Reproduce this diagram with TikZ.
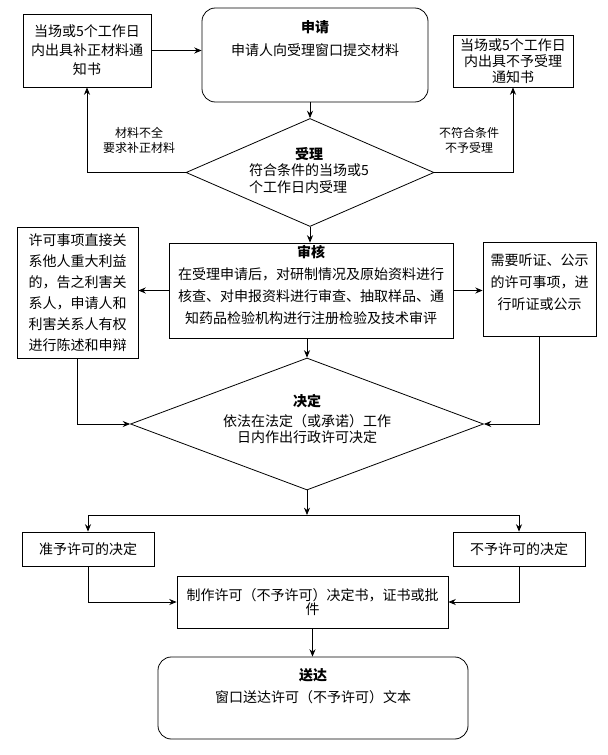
\documentclass[tikz,border=0pt]{standalone}
\usepackage{fontspec}
\setmainfont{Noto Sans CJK SC}
\usepackage{tikz}
\usetikzlibrary{shapes,decorations}
\usetikzlibrary{arrows.meta, positioning}

\tikzset{
  box/.style={draw, line width=0.6pt, inner sep=2pt, align=center, font=\fontsize{10.5}{16.5}\selectfont},
  roundbox/.style={draw, line width=0.6pt, rounded corners=10pt},
  decision/.style={draw, diamond, line width=0.6pt, inner sep=0pt},
  txt/.style={inner sep=1pt, align=center, font=\fontsize{10.5}{16.5}\selectfont},
  note/.style={inner sep=1pt, align=center, font=\fontsize{9}{11.25}\selectfont},
  arr/.style={->, >={Stealth[length=5.5pt,width=4.5pt]}, line width=0.6pt}
}

\begin{document}
\begin{tikzpicture}[x=0.75pt,y=-0.75pt]
\useasboundingbox (0,0) rectangle (607,755);

% 申请
\node[box, minimum width=96pt, minimum height=54.75pt, font=\fontsize{10.5}{14.25}\selectfont] (buzheng) at (87,50.5) {当场或5个工作日\\内出具补正材料通\\知书};
\node[roundbox, minimum width=169.5pt, minimum height=70.5pt] (shenqing) at (315,55) {};
\node[txt, font=\fontsize{10.5}{17.25}\selectfont] (shenqingtxt) at (315,38.5) {\textbf{申请}\\申请人向受理窗口提交材料};
\node[box, minimum width=90pt, minimum height=39pt, font=\fontsize{10.5}{12}\selectfont] (buyu) at (513,61) {当场或5个工作日\\内出具不予受理\\通知书};

% 受理
\node[decision, minimum width=186pt, minimum height=81pt] (shouli) at (310,172.5) {};
\node[txt, align=left, font=\fontsize{10.5}{12.75}\selectfont] (shoulitxt) at (309,178.5) {符合条件的当场或5\\个工作日内受理};
\node[txt, above=0pt of shoulitxt] (shoulihead) {\textbf{受理}};
\node[note] (quehuo) at (139,140) {材料不全\\要求补正材料};
\node[note] (bufu) at (469,140) {不符合条件\\不予受理};

% 审核
\node[box, minimum width=213pt, minimum height=71.25pt] (shenhe) at (311,290.5) {};
\node[txt] (shenhetxt) at (311,285) {\textbf{审核}\\在受理申请后，对研制情况及原始资料进行\\核查、对申报资料进行审查、抽取样品、通\\知药品检验机构进行注册检验及技术审评};
\node[box, minimum width=90.75pt, minimum height=98.25pt, font=\fontsize{10.5}{15.75}\selectfont] (lishi) at (77.5,293) {许可事项直接关\\系他人重大利益\\的，告之利害关\\系人，申请人和\\利害关系人有权\\进行陈述和申辩};
\node[box, minimum width=84.75pt, minimum height=70.5pt] (tingzheng) at (539.5,289) {};
\node[txt] (tingzhengtxt) at (539.5,282.5) {需要听证、公示\\的许可事项，进\\行听证或公示};

% 决定
\node[decision, minimum width=264.75pt, minimum height=99pt] (jueding) at (307,424) {};
\node[txt, font=\fontsize{10.5}{12}\selectfont] (juedingtxt) at (307,419) {\textbf{决定}\\[3pt]依法在法定（或承诺）工作\\日内作出行政许可决定};
\coordinate (fork) at (307,515);
\node[box, minimum width=99pt, minimum height=25.5pt] (zhunyu) at (88,549) {准予许可的决定};
\node[box, minimum width=99pt, minimum height=25.5pt] (buyuxuke) at (519,549) {不予许可的决定};

% 送达
\node[box, minimum width=203.25pt, minimum height=39pt, font=\fontsize{10.5}{11}\selectfont] (zhizuo) at (312.5,602) {制作许可（不予许可）决定书，证书或批\\件};
\node[roundbox, minimum width=232.5pt, minimum height=61.5pt] (songda) at (313,698) {};
\node[txt] (songdatxt) at (313,686) {\textbf{送达}\\窗口送达许可（不予许可）文本};

\draw[arr] (buzheng.east) -- (buzheng.east -| shenqing.west);
\draw[arr] (shouli.north |- shenqing.south) -- (shouli.north);
\draw[arr] (shouli.west) -| (buzheng.south);
\draw[arr] (shouli.east) -| (buyu.south);
\draw[arr] (shouli.south) -- (shouli.south |- shenhe.north);
\draw[arr] (shenhe.west) -- (shenhe.west -| lishi.east);
\draw[arr] (shenhe.east) -- (shenhe.east -| tingzheng.west);
\draw[arr] (jueding.north |- shenhe.south) -- (jueding.north);
\draw[arr] (lishi.south) |- (jueding.west);
\draw[arr] (tingzheng.south) |- (jueding.east);
\draw[arr] (jueding.south) -- (fork);
\draw[arr] (fork) -| (zhunyu.north);
\draw[arr] (fork) -| (buyuxuke.north);
\draw[arr] (zhunyu.south) |- (zhizuo.west);
\draw[arr] (buyuxuke.south) |- (zhizuo.east);
\draw[arr] (zhizuo.south) -- (zhizuo.south |- songda.north);

\end{tikzpicture}
\end{document}
